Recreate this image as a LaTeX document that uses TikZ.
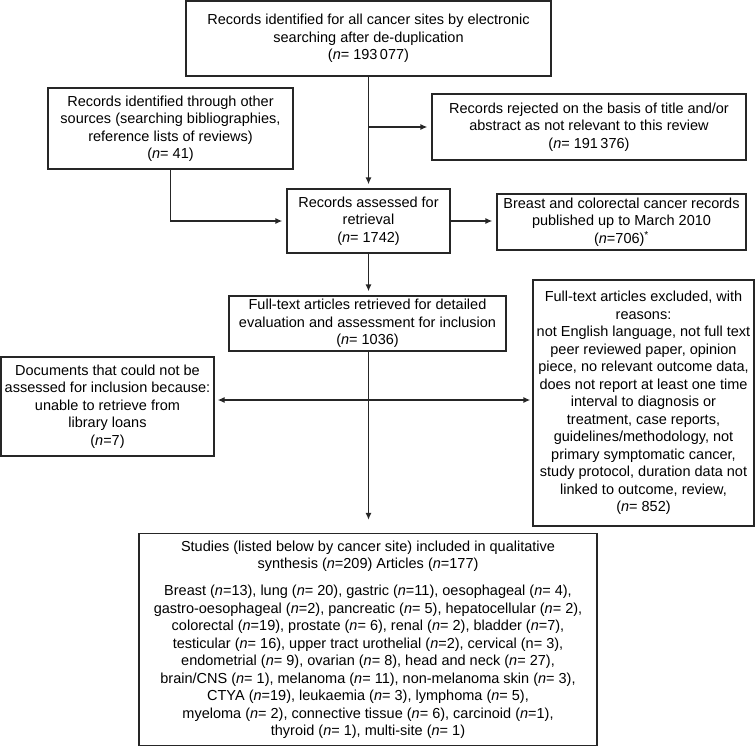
\documentclass[tikz,border=0pt]{standalone}
\usepackage{fontspec}
\setmainfont{Liberation Sans}
\usetikzlibrary{arrows.meta}
\newcommand{\nn}{\textit{n}}

\begin{document}
\begin{tikzpicture}[x=1pt, y=-1pt, >={Latex[length=7pt,width=6pt]},
  every node/.style = {draw=black!85, line width=1.3pt, align=center, inner sep=0pt,
    font=\fontsize{14.5}{17.5}\selectfont},
  link/.style = {draw=black!85, line width=1.3pt, ->, shorten >=4pt}]
  \useasboundingbox (0,0) rectangle (756,747);
  \node[minimum width=365pt, minimum height=75pt] (search) at (368.5,38.5)
    {Records identified for all cancer sites by electronic\\ searching after de-duplication\\ (\nn= 193\,077)};
  \node[minimum width=245pt, minimum height=81pt] (other) at (170.5,128.5)
    {Records identified through other\\ sources (searching bibliographies,\\ reference lists of reviews)\\ (\nn= 41)};
  \node[minimum width=314pt, minimum height=66pt] (rejected) at (589,127)
    {Records rejected on the basis of title and/or\\ abstract as not relevant to this review\\ (\nn= 191\,376)};
  \node[minimum width=163pt, minimum height=64pt] (assessed) at (368.5,221)
    {Records assessed for\\ retrieval\\ (\nn= 1742)};
  \node[minimum width=249pt, minimum height=56pt] (breast) at (621.5,222)
    {Breast and colorectal cancer records\\ published up to March 2010\\ (\nn=706)\textsuperscript{*}};
  \node[minimum width=277pt, minimum height=55pt] (fulltext) at (367.5,323.5)
    {Full-text articles retrieved for detailed\\ evaluation and assessment for inclusion\\ (\nn= 1036)};
  \node[minimum width=213pt, minimum height=99pt] (documents) at (107.5,406.5)
    {Documents that could not be\\ assessed for inclusion because:\\ unable to retrieve from\\ library loans\\ (\nn=7)};
  \node[minimum width=221pt, minimum height=246pt] (excluded) at (643.5,403)
    {Full-text articles excluded, with\\ reasons:\\ not English language, not full text\\ peer reviewed paper, opinion\\
     piece, no relevant outcome data,\\ does not report at least one time\\ interval to diagnosis or\\
     treatment, case reports,\\ guidelines/methodology, not\\ primary symptomatic cancer,\\
     study protocol, duration data not\\ linked to outcome, review,\\ (\nn= 852)};
  \node[minimum width=458pt, minimum height=212pt] (studies) at (368,639.5)
    {Studies (listed below by cancer site) included in qualitative\\ synthesis (\nn=209) Articles (\nn=177)\\[9.5pt]
     Breast (\nn=13), lung (\nn= 20), gastric (\nn=11), oesophageal (\nn= 4),\\
     gastro-oesophageal (\nn=2), pancreatic (\nn= 5), hepatocellular (\nn= 2),\\
     colorectal (\nn=19), prostate (\nn= 6), renal (\nn= 2), bladder (\nn=7),\\
     testicular (\nn= 16), upper tract urothelial (\nn=2), cervical (n= 3),\\
     endometrial (\nn= 9), ovarian (\nn= 8), head and neck (\nn= 27),\\
     brain/CNS (\nn= 1), melanoma (\nn= 11), non-melanoma skin (\nn= 3),\\
     CTYA (\nn=19), leukaemia (\nn= 3), lymphoma (\nn= 5),\\
     myeloma (\nn= 2), connective tissue (\nn= 6), carcinoid (\nn=1),\\
     thyroid (\nn= 1), multi-site (\nn= 1)};
  \coordinate (split) at (368.5,400);
  \draw[link] (search.south) -- (assessed.north);
  \draw[link] (search.south |- rejected.west) -- (rejected.west);
  \draw[link] (other.south) |- (assessed.west);
  \draw[link] (assessed.east) -- (assessed.east -| breast.west);
  \draw[link] (assessed.south) -- (assessed.south |- fulltext.north);
  \draw[link, shorten >=13pt] (split |- fulltext.south) -- (split |- studies.north);
  \draw[link, shorten >=3pt] (split) -- (split -| documents.east);
  \draw[link, shorten >=2pt] (split) -- (split -| excluded.west);
\end{tikzpicture}
\end{document}
